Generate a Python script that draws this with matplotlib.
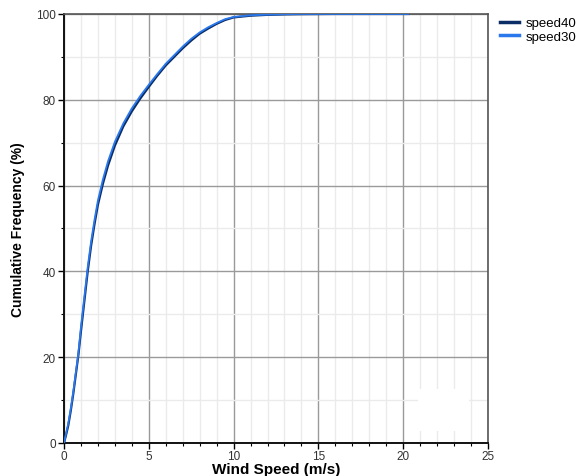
import numpy as np
import matplotlib.pyplot as plt
from matplotlib.patches import Rectangle
from matplotlib.ticker import MultipleLocator


# --- Cumulative wind speed distribution, two measurement heights ---
speed40_ws = [0, 0.1, 0.25, 0.4, 0.55, 0.7, 0.85, 1.0, 1.2, 1.4, 1.6, 1.8, 2.0, 2.3, 2.6, 3.0,
              3.5, 4.0, 4.5, 5.0, 5.5, 6.0, 6.5, 7.0, 7.5, 8.0, 8.5, 9.0, 9.5, 10.0, 11.0,
              12.0, 13.0, 14.0, 16.0, 18.0, 20.3]
speed40_cf = [0, 1.5, 4, 7.5, 11.5, 16, 20.5, 26, 33, 40, 46, 51, 55.5, 60.5, 64.7, 69.3,
              73.8, 77.3, 80.3, 83, 85.6, 88, 90, 92, 93.8, 95.4, 96.6, 97.7, 98.6, 99.2, 99.6,
              99.8, 99.9, 99.95, 100, 100, 100]

speed30_ws = [0, 0.1, 0.25, 0.4, 0.55, 0.7, 0.85, 1.0, 1.2, 1.4, 1.6, 1.8, 2.0, 2.3, 2.6, 3.0,
              3.5, 4.0, 4.5, 5.0, 5.5, 6.0, 6.5, 7.0, 7.5, 8.0, 8.5, 9.0, 9.5, 10.0, 11.0,
              12.0, 13.0, 14.0, 16.0, 18.0, 20.3]
speed30_cf = [0, 1.8, 4.5, 8, 12, 16.5, 21, 27, 34, 41, 47, 52, 56.5, 61.5, 65.7, 70.2,
              74.5, 78.0, 80.9, 83.5, 86.0, 88.4, 90.4, 92.4, 94.2, 95.7, 96.9, 97.9, 98.8, 99.3, 99.7,
              99.85, 99.95, 100, 100, 100, 100]

plt.rcParams['font.family'] = ['Liberation Sans', 'DejaVu Sans']

fig = plt.figure(figsize=(5.8, 4.77), dpi=100)
ax = fig.add_axes([0.1103, 0.0692, 0.7311, 0.8994])

ax.plot(speed40_ws, speed40_cf, color='#0b2d66', lw=1.6, label='speed40', zorder=3)
ax.plot(speed30_ws, speed30_cf, color='#2a78ec', lw=1.3, label='speed30', zorder=4)

ax.set_xlim(0, 25)
ax.set_ylim(0, 100)
ax.xaxis.set_major_locator(MultipleLocator(5))
ax.xaxis.set_minor_locator(MultipleLocator(1))
ax.yaxis.set_major_locator(MultipleLocator(20))
ax.yaxis.set_minor_locator(MultipleLocator(10))

ax.grid(which='major', color='#9a9a9a', lw=1.0, zorder=1)
ax.grid(which='minor', color='#ebebeb', lw=1.0, zorder=0)
ax.set_axisbelow(True)

# patch of blank area near the bottom right of the plot
ax.add_patch(Rectangle((20.9, 2.8), 3.0, 9.8, facecolor='white', edgecolor='none', zorder=2))

ax.tick_params(which='major', direction='out', length=4, width=1, labelsize=8.5,
               labelcolor='#333333', pad=2)
ax.tick_params(axis='x', which='major', pad=1)
ax.tick_params(which='minor', direction='out', length=2, width=0.8)

for side in ('left', 'bottom'):
    ax.spines[side].set_color('#111111')
    ax.spines[side].set_linewidth(1.4)
for side in ('top', 'right'):
    ax.spines[side].set_color('#555555')
    ax.spines[side].set_linewidth(1.2)

ax.set_xlabel('Wind Speed (m/s)', fontsize=11, fontweight='bold')
ax.xaxis.set_label_coords(0.5, -0.045)
ax.set_ylabel('Cumulative Frequency (%)', fontsize=10, fontweight='bold',
              family=['Liberation Sans Narrow', 'Liberation Sans', 'DejaVu Sans'])
ax.yaxis.set_label_coords(-0.093, 0.5)

leg = fig.legend(loc='upper left', bbox_to_anchor=(0.862, 0.962), frameon=False,
                 fontsize=9.5, handlelength=1.45, handletextpad=0.5,
                 labelspacing=0.1, borderpad=0, borderaxespad=0)
for line in leg.get_lines():
    line.set_linewidth(2.5)

fig.savefig('out.png', dpi=100)
